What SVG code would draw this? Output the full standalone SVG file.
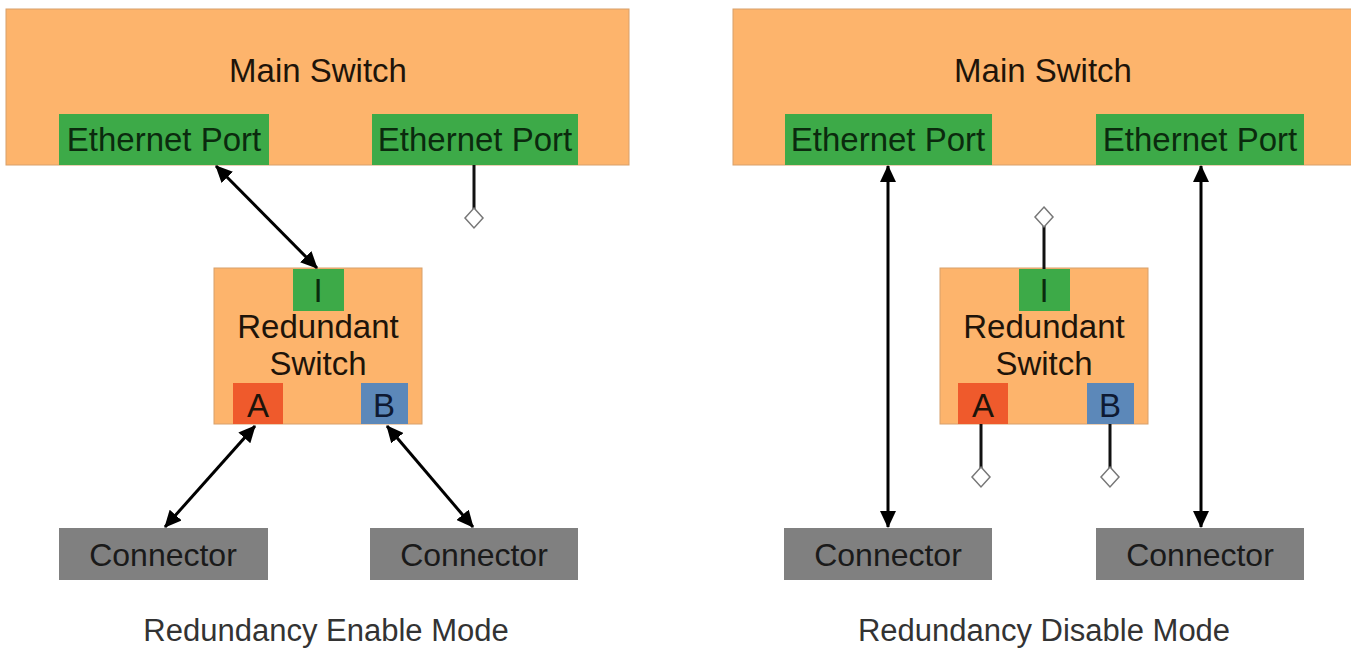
<svg xmlns="http://www.w3.org/2000/svg" width="1351" height="648" viewBox="0 0 1351 648">
  <style>
    .sw { fill: #FDB46C; stroke: #D8A06A; stroke-width: 1; }
    .eth { fill: #3DAA48; }
    .pa { fill: #EF5A2C; }
    .pb { fill: #5C88B9; }
    .con { fill: #808080; }
    .t { font-family: "Liberation Sans", Arial, sans-serif; font-size: 33px; fill: #1E140A; text-anchor: middle; }
    .tp { font-family: "Liberation Sans", Arial, sans-serif; font-size: 33px; fill: #0B2A0E; text-anchor: middle; }
    .tc { font-family: "Liberation Sans", Arial, sans-serif; font-size: 32px; fill: #1A1A1A; text-anchor: middle; }
    .cap { font-family: "Liberation Sans", Arial, sans-serif; font-size: 31px; fill: #333333; text-anchor: middle; }
    .ln { stroke: #000; stroke-width: 3; fill: none; }
    .stub { stroke: #111; stroke-width: 3; fill: none; }
    .dia { fill: #FFFFFF; stroke: #777; stroke-width: 1.5; }
  </style>
  <defs>
    <marker id="arr" markerUnits="userSpaceOnUse" markerWidth="17" markerHeight="16" refX="16" refY="8" orient="auto-start-reverse" viewBox="0 0 17 16">
      <path d="M0,0 L17,8 L0,16 z" fill="#000"/>
    </marker>
  </defs>
  <rect width="1351" height="648" fill="#FFFFFF"/>

  <!-- Left: Redundancy Enable Mode -->
  <g id="main-switch-left">
    <rect class="sw" x="6" y="9" width="623" height="156"/>
    <text class="t" x="318" y="82">Main Switch</text>
  </g>
  <g id="eth-port-left-1">
    <rect class="eth" x="59" y="114" width="210" height="51"/>
    <text class="tp" x="164" y="151">Ethernet Port</text>
  </g>
  <g id="eth-port-left-2">
    <rect class="eth" x="372" y="114" width="206" height="51"/>
    <text class="tp" x="475" y="151">Ethernet Port</text>
  </g>
  <g id="redundant-switch-left">
    <rect class="sw" x="214" y="268" width="208" height="156"/>
    <text class="t" x="318" y="338">Redundant</text>
    <text class="t" x="318" y="375">Switch</text>
  </g>
  <g id="port-i-left">
    <rect class="eth" x="293" y="269" width="51" height="42"/>
    <text class="tp" x="318" y="302">I</text>
  </g>
  <g id="port-a-left">
    <rect class="pa" x="233" y="383" width="50" height="41"/>
    <text class="t" x="258" y="417">A</text>
  </g>
  <g id="port-b-left">
    <rect class="pb" x="361" y="383" width="47" height="41"/>
    <text class="tp" x="384" y="417" style="fill:#0E1A33">B</text>
  </g>
  <g id="connector-left-1">
    <rect class="con" x="59" y="528" width="209" height="52"/>
    <text class="tc" x="163" y="566">Connector</text>
  </g>
  <g id="connector-left-2">
    <rect class="con" x="370" y="528" width="208" height="52"/>
    <text class="tc" x="474" y="566">Connector</text>
  </g>
  <text class="cap" x="326" y="641">Redundancy Enable Mode</text>

  <!-- Right: Redundancy Disable Mode -->
  <g id="main-switch-right">
    <rect class="sw" x="733" y="9" width="625" height="156"/>
    <text class="t" x="1043" y="82">Main Switch</text>
  </g>
  <g id="eth-port-right-1">
    <rect class="eth" x="785" y="114" width="207" height="51"/>
    <text class="tp" x="888" y="151">Ethernet Port</text>
  </g>
  <g id="eth-port-right-2">
    <rect class="eth" x="1096" y="114" width="208" height="51"/>
    <text class="tp" x="1200" y="151">Ethernet Port</text>
  </g>
  <g id="redundant-switch-right">
    <rect class="sw" x="940" y="268" width="208" height="156"/>
    <text class="t" x="1044" y="338">Redundant</text>
    <text class="t" x="1044" y="375">Switch</text>
  </g>
  <g id="port-i-right">
    <rect class="eth" x="1019" y="269" width="51" height="42"/>
    <text class="tp" x="1044" y="302">I</text>
  </g>
  <g id="port-a-right">
    <rect class="pa" x="958" y="383" width="50" height="41"/>
    <text class="t" x="983" y="417">A</text>
  </g>
  <g id="port-b-right">
    <rect class="pb" x="1087" y="383" width="47" height="41"/>
    <text class="tp" x="1110" y="417" style="fill:#0E1A33">B</text>
  </g>
  <g id="connector-right-1">
    <rect class="con" x="784" y="528" width="208" height="52"/>
    <text class="tc" x="888" y="566">Connector</text>
  </g>
  <g id="connector-right-2">
    <rect class="con" x="1096" y="528" width="208" height="52"/>
    <text class="tc" x="1200" y="566">Connector</text>
  </g>
  <text class="cap" x="1044" y="641">Redundancy Disable Mode</text>

  <!-- Connectors -->
  <g id="connectors">
    <line class="ln" x1="216" y1="166" x2="317" y2="268" marker-start="url(#arr)" marker-end="url(#arr)"/>
    <line class="ln" x1="255" y1="426" x2="165" y2="527" marker-start="url(#arr)" marker-end="url(#arr)"/>
    <line class="ln" x1="387" y1="426" x2="473" y2="527" marker-start="url(#arr)" marker-end="url(#arr)"/>
    <line class="stub" x1="474" y1="165" x2="474" y2="209"/>
    <path class="dia" d="M474,208 L483,218 L474,228 L465,218 z"/>

    <line class="ln" x1="888" y1="166" x2="888" y2="527" marker-start="url(#arr)" marker-end="url(#arr)"/>
    <line class="ln" x1="1201" y1="166" x2="1201" y2="527" marker-start="url(#arr)" marker-end="url(#arr)"/>
    <line class="stub" x1="1044" y1="226" x2="1044" y2="269"/>
    <path class="dia" d="M1044,207 L1053,217 L1044,227 L1035,217 z"/>
    <line class="stub" x1="981" y1="424" x2="981" y2="468"/>
    <path class="dia" d="M981,467 L990,477 L981,487 L972,477 z"/>
    <line class="stub" x1="1110" y1="424" x2="1110" y2="468"/>
    <path class="dia" d="M1110,467 L1119,477 L1110,487 L1101,477 z"/>
  </g>
</svg>
